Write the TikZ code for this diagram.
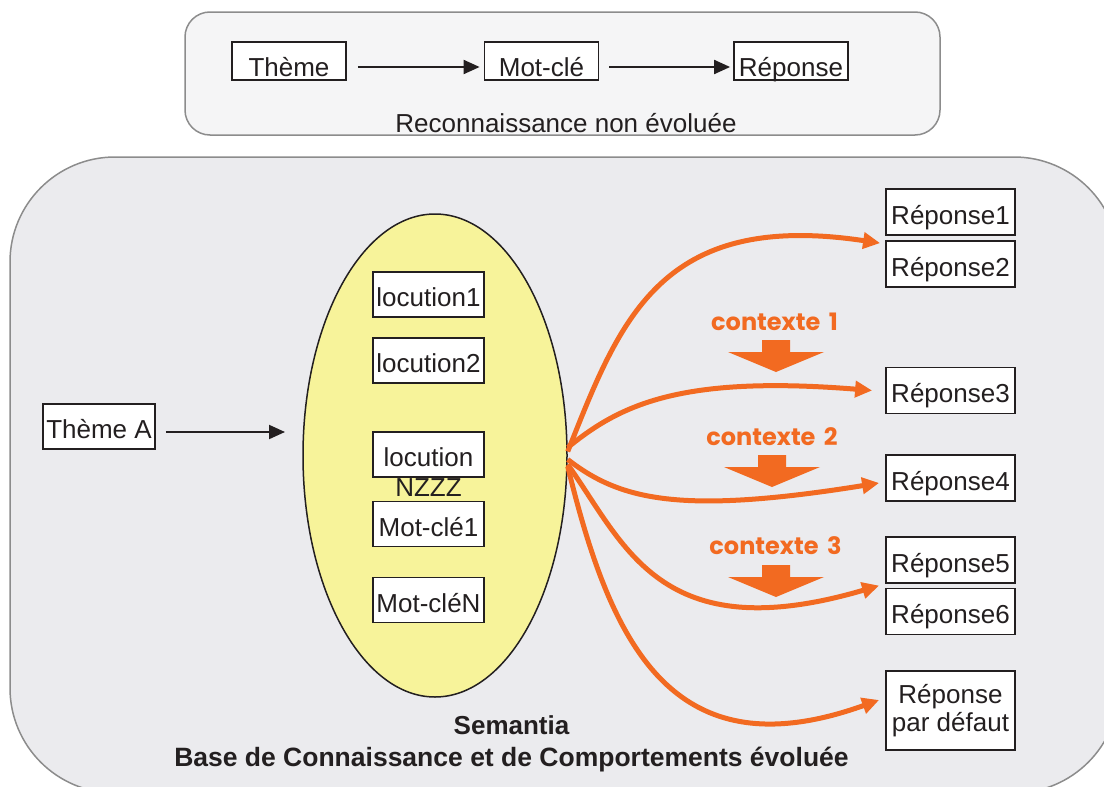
\documentclass[tikz,border=0pt]{standalone}
\usepackage{fontspec}
\setmainfont{Liberation Sans}
\newfontfamily\ctxfont{Poppins}
\usetikzlibrary{shapes.geometric,arrows.meta}
\definecolor{txt}{HTML}{231F20}
\definecolor{orng}{HTML}{F26A21}
\definecolor{yel}{HTML}{F7F39A}
\definecolor{bgbig}{HTML}{EBEBEE}
\definecolor{bgtop}{HTML}{F5F5F6}
\definecolor{frame}{HTML}{8C8C8C}
\newcommand\fsz{\fontsize{26}{28.3}\selectfont}
\newcommand\blkarrow[2]{\fill[orng] (#1-14,#2) -- ++(28,0) -- ++(0,12) -- ++(34,0) -- (#1,#2+32) -- (#1-48,#2+12) -- ++(34,0) -- cycle;}
\begin{document}
\begin{tikzpicture}[x=1pt,y=-1pt,
 box/.style={draw=txt, line width=1.8pt, fill=white, inner sep=0pt, text=txt, font=\fsz, text height=24pt, text depth=0pt},
 topbox/.style={box, minimum width=114pt, minimum height=38pt, text height=31pt},
 inbox/.style={box, minimum width=111pt, minimum height=45pt},
 rbox/.style={box, minimum width=129pt, minimum height=46pt},
 blackarrow/.style={-{Triangle[length=16pt,width=14pt]}, line width=2pt, draw=txt},
 orarrow/.style={-{Triangle[length=17pt,width=16pt]}, line width=5pt, draw=orng},
 ctx/.style={text=orng, font=\ctxfont\bfseries\fontsize{24}{26}\selectfont, anchor=base, inner sep=0pt},
 lbl/.style={text=txt, font=\fsz, anchor=base, inner sep=0pt}]
\useasboundingbox (0,0) rectangle (1104,787);
\clip (0,0) rectangle (1104,787);
\fill[white] (0,0) rectangle (1104,787);
\node[draw=frame, fill=bgbig, line width=1.5pt, rounded corners=105pt, minimum width=1109pt, minimum height=636pt, inner sep=0pt] (big) at (564.5,475) {};
\node[draw=frame, fill=bgtop, line width=1.5pt, rounded corners=25pt, minimum width=755pt, minimum height=123pt, inner sep=0pt] (top) at (562.5,73.5) {};
% top row
\node[topbox] (t1) at (289,61) {Thème};
\node[topbox] (t2) at (541.5,61) {Mot-clé};
\node[topbox] (t3) at (791,61) {Réponse};
\node[lbl] (reco) at (566,132) {Reconnaissance non évoluée};
\draw[blackarrow] ([xshift=11pt,yshift=-6pt]t1.east) -- ([xshift=-4pt,yshift=-6pt]t2.west);
\draw[blackarrow] ([xshift=10pt,yshift=-6pt]t2.east) -- ([xshift=-3pt,yshift=-6pt]t3.west);
% ellipse
\node[ellipse, draw=txt, fill=yel, line width=1.5pt, minimum width=264pt, minimum height=483pt, inner sep=0pt] (base) at (435,455.5) {};
\node[inbox] (l1) at (428.5,294.5) {locution1};
\node[inbox] (l2) at (428.5,360.5) {locution2};
\node[inbox] (ln) at (428.5,454.5) {locution};
\node[lbl] (nz) at (428.5,496) {NZZZ};
\node[inbox] (m1) at (428.5,524) {Mot-clé1};
\node[inbox] (mn) at (428.5,600) {Mot-cléN};
\node[box, minimum width=112pt, minimum height=45pt] (ta) at (99,426.5) {Thème A};
\coordinate (tipA) at (285,432);
\draw[blackarrow] ([xshift=10pt,yshift=-5.5pt]ta.east) -- (tipA);
% responses
\node[rbox] (r1) at (950.5,212) {Réponse1};
\node[rbox] (r2) at (950.5,264) {Réponse2};
\node[rbox] (r3) at (950.5,390.5) {Réponse3};
\node[rbox] (r4) at (950.5,478) {Réponse4};
\node[rbox] (r5) at (950.5,560) {Réponse5};
\node[rbox] (r6) at (950.5,611.5) {Réponse6};
\node[box, align=center, text height=, text depth=, minimum width=129pt, minimum height=79pt] (rd) at (950.5,710.5) {Réponse\\par défaut};
% contexts
\node[ctx] (c1) at (774.5,330) {contexte\hspace{0.35em}1};
\node[ctx] (c2) at (772,445) {contexte\hspace{0.35em}2};
\node[ctx] (c3) at (775.5,554) {contexte\hspace{0.35em}3};
\blkarrow{776}{340}
\blkarrow{772}{455}
\blkarrow{776}{565}
% orange connectors
\draw[orarrow] ([yshift=4pt]base.east) .. controls (620,320) and (660,210) .. ([xshift=-5pt,yshift=-3pt]r2.north west);
\draw[orarrow] ([yshift=8pt]base.east) .. controls (620,405) and (680,375) .. ([xshift=-13pt]r3.west);
\draw[orarrow] ([yshift=-4pt]base.east) .. controls (620,500) and (680,515) .. ([xshift=-6pt,yshift=-5pt]r4.west);
\draw[orarrow] ([yshift=-9pt]base.east) .. controls (625,545) and (660,650) .. ([xshift=-6pt,yshift=2pt]r6.north west);
\draw[orarrow] ([yshift=-11pt]base.east) .. controls (610,640) and (670,775) .. ([xshift=-6pt,yshift=10.5pt]rd.west);
% bottom caption
\node[lbl, font=\fsz\bfseries] (sem) at (511.5,734) {Semantia};
\node[lbl, font=\fontsize{26.5}{28}\selectfont\bfseries] (bcc) at (511.5,766) {Base de Connaissance et de Comportements évoluée};
\end{tikzpicture}
\end{document}
